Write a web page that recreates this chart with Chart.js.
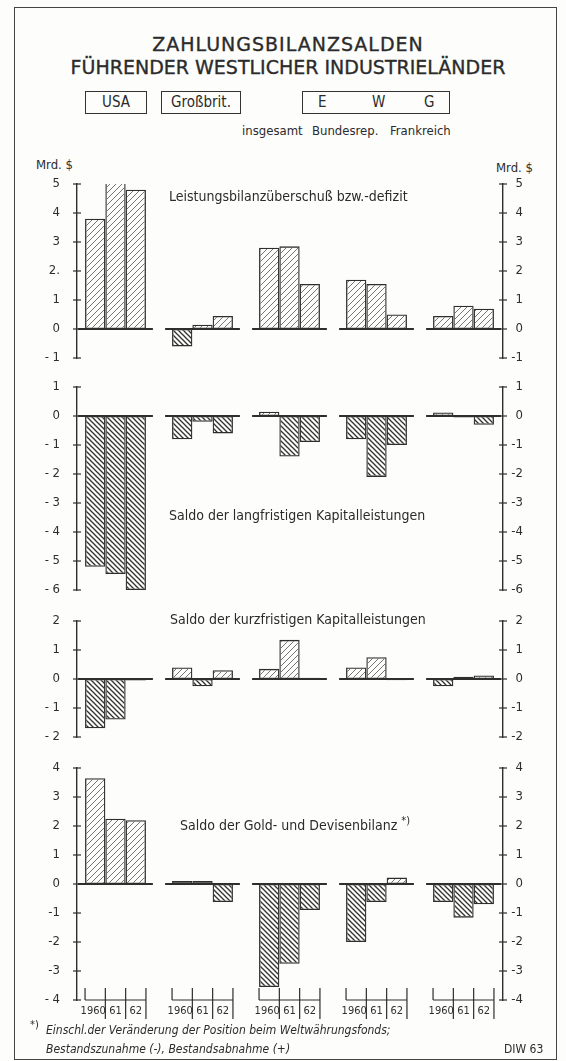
<!DOCTYPE html>
<html>
<head>
<meta charset="utf-8">
<script src="https://cdn.jsdelivr.net/npm/chart.js@4.4.1/dist/chart.umd.min.js"></script>
<style>
  body { margin: 0; width: 566px; height: 1061px; background: #fdfdfb; position: relative; overflow: hidden;
         font-family: "DejaVu Sans Condensed", "Liberation Sans Narrow", "DejaVu Sans", sans-serif; font-stretch: condensed; color: #2b2b2b; }
  .frame { position: absolute; left: 14px; top: 7px; width: 541px; height: 1051px; border: 1.5px solid #444; }
  .t { position: absolute; white-space: nowrap; line-height: 1; }
  .title { left: 0; width: 576px; text-align: center; font-family: "DejaVu Sans", sans-serif; font-stretch: normal; font-size: 19px; -webkit-text-stroke: 0.35px #2b2b2b; }
  .box { position: absolute; border: 1.4px solid #333; height: 21px; font-size: 15px; line-height: 21px; text-align: center; }
  .panel { position: absolute; left: 20px; }
  .foot { font-style: italic; font-size: 12px; }
</style>
</head>
<body>
<div class="frame"></div>

<div class="t title" style="top:35px; letter-spacing:1px">ZAHLUNGSBILANZSALDEN</div>
<div class="t title" style="top:58px">FÜHRENDER WESTLICHER INDUSTRIELÄNDER</div>

<div class="box" style="left:85px; top:91px; width:60px">USA</div>
<div class="box" style="left:161px; top:91px; width:78px">Großbrit.</div>
<div class="box" style="left:302px; top:91px; width:146px"></div>
<div class="t" style="left:318px; top:95px; font-size:15px">E</div>
<div class="t" style="left:372px; top:95px; font-size:15px">W</div>
<div class="t" style="left:424px; top:95px; font-size:15px">G</div>
<div class="t" style="left:242px; top:124px; font-size:13px">insgesamt</div>
<div class="t" style="left:312px; top:124px; font-size:13px">Bundesrep.</div>
<div class="t" style="left:390px; top:124px; font-size:13px">Frankreich</div>

<div class="t" style="left:36px; top:158px; font-size:13px">Mrd. $</div>
<div class="t" style="left:496px; top:161px; font-size:13px">Mrd. $</div>

<div class="panel" style="top:172px"><canvas id="c1" width="520" height="198"></canvas></div>
<div class="panel" style="top:375px"><canvas id="c2" width="520" height="227"></canvas></div>
<div class="panel" style="top:609px"><canvas id="c3" width="520" height="140"></canvas></div>
<div class="panel" style="top:756px"><canvas id="c4" width="520" height="274"></canvas></div>

<div class="t" style="left:169px; top:189px; font-size:14px">Leistungsbilanzüberschuß bzw.-defizit</div>
<div class="t" style="left:169px; top:508px; font-size:14px">Saldo der langfristigen Kapitalleistungen</div>
<div class="t" style="left:170px; top:612px; font-size:14px">Saldo der kurzfristigen Kapitalleistungen</div>
<div class="t" style="left:180px; top:815px; font-size:14px">Saldo der Gold- und Devisenbilanz <sup style="font-size:11px">*)</sup></div>

<div class="t" style="left:30px; top:1019px; font-size:11px">*)</div>
<div class="t foot" style="left:46px; top:1024px">Einschl.der Veränderung der Position beim Weltwährungsfonds;</div>
<div class="t foot" style="left:46px; top:1043px">Bestandszunahme (-), Bestandsabnahme (+)</div>
<div class="t" style="left:504px; top:1043px; font-size:12px">DIW 63</div>

<script>
// groups and years
const groups = ['USA', 'Großbrit.', 'EWG insgesamt', 'Bundesrep.', 'Frankreich'];
const years = ['1960', '61', '62'];

// Leistungsbilanzüberschuß bzw. -defizit (Mrd. $)
const leistung1960 = [3.8, -0.6, 2.8, 1.7, 0.45];
const leistung1961 = [5.1, 0.15, 2.85, 1.55, 0.8];
const leistung1962 = [4.8, 0.45, 1.55, 0.5, 0.7];
const leistungTicks = [-1, 0, 1, 2, 3, 4, 5];
const leistungLeft = ['- 1', '0', '1', '2.', '3', '4', '5'];
const leistungRight = ['-1', '0', '1', '2', '3', '4', '5'];

// Saldo der langfristigen Kapitalleistungen
const lang1960 = [-5.2, -0.8, 0.15, -0.8, 0.12];
const lang1961 = [-5.45, -0.2, -1.4, -2.1, -0.05];
const lang1962 = [-6.0, -0.6, -0.9, -1.0, -0.3];
const langTicks = [-6, -5, -4, -3, -2, -1, 0, 1];
const langLeft = ['- 6', '- 5', '- 4', '- 3', '- 2', '- 1', '0', '1'];
const langRight = ['-6', '-5', '-4', '-3', '-2', '-1', '0', '1'];

// Saldo der kurzfristigen Kapitalleistungen
const kurz1960 = [-1.7, 0.4, 0.35, 0.4, -0.25];
const kurz1961 = [-1.4, -0.25, 1.35, 0.75, 0.08];
const kurz1962 = [-0.05, 0.3, 0.04, -0.04, 0.12];
const kurzTicks = [-2, -1, 0, 1, 2];
const kurzLeft = ['- 2', '- 1', '0', '1', '2'];
const kurzRight = ['-2', '-1', '0', '1', '2'];

// Saldo der Gold- und Devisenbilanz
const gold1960 = [3.65, 0.1, -3.55, -2.0, -0.62];
const gold1961 = [2.25, 0.1, -2.75, -0.62, -1.16];
const gold1962 = [2.2, -0.62, -0.9, 0.22, -0.7];
const goldTicks = [-4, -3, -2, -1, 0, 1, 2, 3, 4];
const goldLeft = ['- 4', '-3', '-2', '-1', '0', '1', '2', '3', '4'];
const goldRight = ['-4', '-3', '-2', '-1', '0', '1', '2', '3', '4'];

const ink = '#2e2e2e';
const labelFont = { family: '"DejaVu Sans Condensed", "Liberation Sans Narrow", "DejaVu Sans", sans-serif', size: 13 };

// hatch fills: "/" for surplus, "\" for deficit
function hatch(size, color, width, up) {
    const c = document.createElement('canvas');
    c.width = size; c.height = size;
    const g = c.getContext('2d');
    g.strokeStyle = color;
    g.lineWidth = width;
    const segs = up
        ? [[0, size, size, 0], [-1, 1, 1, -1], [size - 1, size + 1, size + 1, size - 1]]
        : [[0, 0, size, size], [-1, size - 1, 1, size + 1], [size - 1, -1, size + 1, 1]];
    segs.forEach(s => { g.beginPath(); g.moveTo(s[0], s[1]); g.lineTo(s[2], s[3]); g.stroke(); });
    return g.createPattern(c, 'repeat');
}
const posFill = hatch(6, '#666', 0.9, true);
const negFill = hatch(5, '#333', 1.3, false);

// axis ticks crossing both axis lines
const crossTicks = {
    id: 'crossTicks',
    afterDraw(chart) {
        const ctx = chart.ctx;
        ['y', 'y2'].forEach(id => {
            const s = chart.scales[id];
            const x = id === 'y' ? s.right : s.left;
            ctx.save();
            ctx.strokeStyle = ink;
            ctx.lineWidth = 1.2;
            s.ticks.forEach(t => {
                const py = s.getPixelForValue(t.value);
                ctx.beginPath();
                ctx.moveTo(x - 4, py);
                ctx.lineTo(x + 4, py);
                ctx.stroke();
            });
            ctx.restore();
        });
    }
};

// zero line under each country group
const zeroLines = {
    id: 'zeroLines',
    afterDatasetsDraw(chart) {
        const ctx = chart.ctx;
        const xs = chart.scales.x, ys = chart.scales.y;
        const y0 = ys.getPixelForValue(0);
        ctx.save();
        ctx.strokeStyle = ink;
        ctx.lineWidth = 1.8;
        groups.forEach((g, i) => {
            ctx.beginPath();
            ctx.moveTo(xs.getPixelForValue(i - 0.43), y0);
            ctx.lineTo(xs.getPixelForValue(i + 0.43), y0);
            ctx.stroke();
        });
        ctx.restore();
    }
};

// year brackets under the last panel
const yearBrackets = {
    id: 'yearBrackets',
    afterDraw(chart) {
        const ctx = chart.ctx;
        const yb = chart.scales.y.getPixelForValue(chart.scales.y.min);
        const metas = years.map((y, d) => chart.getDatasetMeta(d));
        ctx.save();
        ctx.strokeStyle = ink;
        ctx.fillStyle = ink;
        ctx.lineWidth = 1.2;
        ctx.font = '11px ' + labelFont.family;
        ctx.textAlign = 'center';
        ctx.textBaseline = 'middle';
        groups.forEach((g, i) => {
            const bars = metas.map(m => m.data[i]);
            const edges = [bars[0].x - bars[0].width / 2].concat(bars.map(b => b.x + b.width / 2));
            ctx.beginPath();
            ctx.moveTo(edges[0], yb);
            ctx.lineTo(edges[3], yb);
            edges.forEach((ex, k) => {
                ctx.moveTo(ex, yb - 12);
                ctx.lineTo(ex, k === 0 ? yb : yb + 19);
            });
            ctx.stroke();
            bars.forEach((b, k) => ctx.fillText(years[k], b.x - (k === 0 ? 2 : 0), yb + 11));
        });
        ctx.restore();
    }
};

function makeChart(id, series, ticks, leftLabels, rightLabels, padBottom, extra) {
    const yScale = (pos, labels) => ({
        position: pos,
        min: ticks[0],
        max: ticks[ticks.length - 1],
        afterBuildTicks: s => { s.ticks = ticks.map(v => ({ value: v })); },
        afterFit: s => {
            s.width = pos === 'left' ? 57 : 20;
            s.paddingTop = 0;
            s.paddingBottom = 0;
        },
        grid: { display: false, drawTicks: false },
        border: { display: true, color: ink, width: 1.4 },
        ticks: {
            padding: pos === 'left' ? 17 : 6,
            crossAlign: pos === 'left' ? 'near' : 'far',
            color: ink,
            font: labelFont,
            callback: (v, i) => labels[i]
        }
    });
    return new Chart(document.getElementById(id), {
        type: 'bar',
        data: {
            datasets: series.map((vals, d) => ({
                label: years[d],
                data: vals.map((v, i) => ({ x: i, y: v })),
                backgroundColor: c => (c.raw && c.raw.y < 0 ? negFill : posFill),
                borderColor: ink,
                borderWidth: 1.3,
                borderSkipped: false,
                categoryPercentage: 0.70,
                barPercentage: 1.0
            }))
        },
        options: {
            responsive: false,
            animation: false,
            devicePixelRatio: 1,
            layout: { padding: { top: 12, bottom: padBottom, left: 0, right: 17 } },
            plugins: { legend: { display: false }, tooltip: { enabled: false } },
            scales: {
                x: {
                    type: 'linear', display: false, offset: false, min: -0.4425, max: 4.454,
                    afterBuildTicks: s => { s.ticks = groups.map((g, i) => ({ value: i })); }
                },
                y: yScale('left', leftLabels),
                y2: Object.assign(yScale('right', rightLabels), { display: true })
            }
        },
        plugins: [zeroLines, crossTicks].concat(extra || [])
    });
}

makeChart('c1', [leistung1960, leistung1961, leistung1962], leistungTicks, leistungLeft, leistungRight, 12);
makeChart('c2', [lang1960, lang1961, lang1962], langTicks, langLeft, langRight, 12);
makeChart('c3', [kurz1960, kurz1961, kurz1962], kurzTicks, kurzLeft, kurzRight, 12);
makeChart('c4', [gold1960, gold1961, gold1962], goldTicks, goldLeft, goldRight, 30, [yearBrackets]);
</script>
</body>
</html>
